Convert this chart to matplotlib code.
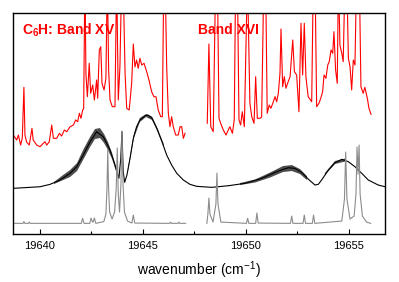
import numpy as np
import matplotlib.pyplot as plt
from matplotlib.ticker import MultipleLocator

plt.rcParams['font.family'] = ['Liberation Sans', 'DejaVu Sans']
plt.rcParams['mathtext.fontset'] = 'custom'
plt.rcParams['mathtext.rm'] = 'Liberation Sans'
plt.rcParams['mathtext.bf'] = 'Liberation Sans:bold'

# experimental spectrum (red), two scans; 260 = peak running off the top
red_x1 = [19638.74, 19638.87, 19638.95, 19639.06, 19639.14, 19639.22, 19639.27, 19639.35,
          19639.48, 19639.61, 19639.67, 19639.84, 19640.00, 19640.16, 19640.24, 19640.33,
          19640.45, 19640.57, 19640.65, 19640.81, 19640.94, 19641.05, 19641.18, 19641.30,
          19641.46, 19641.62, 19641.73, 19641.83, 19641.91, 19641.99, 19642.07, 19642.12,
          19642.18, 19642.23, 19642.30, 19642.39, 19642.46, 19642.56, 19642.64, 19642.75,
          19642.80, 19642.88, 19642.95, 19643.01, 19643.11, 19643.20, 19643.27, 19643.33,
          19643.40, 19643.51, 19643.64, 19643.72, 19643.80, 19643.88, 19643.97, 19644.03,
          19644.13, 19644.21, 19644.33, 19644.45, 19644.53, 19644.61, 19644.69, 19644.77,
          19644.85, 19644.94, 19645.05, 19645.18, 19645.29, 19645.42, 19645.53, 19645.63,
          19645.74, 19645.86, 19645.94, 19646.01, 19646.07, 19646.15, 19646.23, 19646.31,
          19646.39, 19646.47, 19646.59, 19646.71, 19646.80, 19646.88, 19646.96, 19647.04]
red_y1 = [98, 94, 99, 89, 95.7, 146.7, 99, 92,
          89, 105.7, 94, 89, 87.3, 90.7, 92.3, 89,
          92.3, 109, 95.7, 95.7, 100.7, 98, 104, 102.3,
          107.3, 109, 114, 112.3, 120.7, 115.7, 124, 125,
          260, 160, 137.3, 170.7, 140.7, 149, 134, 154,
          135.7, 184, 187.3, 150.7, 144, 155.7, 260, 165,
          134, 127.3, 127.3, 260, 134, 167, 260, 260,
          160.7, 125.7, 124, 150.7, 190, 167, 174, 165.7,
          175.7, 169, 170.7, 162.3, 154, 142.3, 137.3, 137.3,
          124, 117.3, 117.3, 260, 260, 167.3, 120.7, 107.3,
          117.3, 107.3, 99, 99, 107.3, 107.3, 95.7, 100.7]

red_x2 = [19648.12, 19648.20, 19648.29, 19648.41, 19648.53, 19648.61, 19648.69, 19648.77,
          19648.90, 19649.03, 19649.14, 19649.22, 19649.34, 19649.43, 19649.50, 19649.58,
          19649.66, 19649.74, 19649.82, 19649.92, 19650.07, 19650.19, 19650.28, 19650.39,
          19650.47, 19650.55, 19650.68, 19650.76, 19650.87, 19650.95, 19651.03, 19651.13,
          19651.21, 19651.30, 19651.41, 19651.49, 19651.57, 19651.65, 19651.70, 19651.78,
          19651.86, 19651.94, 19652.02, 19652.14, 19652.27, 19652.35, 19652.46, 19652.57,
          19652.67, 19652.75, 19652.83, 19652.91, 19653.02, 19653.19, 19653.27, 19653.35,
          19653.43, 19653.54, 19653.63, 19653.72, 19653.79, 19653.88, 19653.97, 19654.04,
          19654.13, 19654.21, 19654.27, 19654.35, 19654.43, 19654.49, 19654.56, 19654.65,
          19654.72, 19654.81, 19654.89, 19654.97, 19655.05, 19655.13, 19655.21, 19655.29,
          19655.37, 19655.50, 19655.58, 19655.69, 19655.77, 19655.89, 19655.97, 19656.07]
red_y2 = [110.7, 190, 107.3, 102.3, 260, 260, 115.7, 110.7,
          104, 99, 104, 107.3, 100.7, 114, 260, 260,
          114, 109, 122.3, 107.3, 260, 130.7, 117.3, 110.7,
          157.3, 115.7, 115.7, 117, 260, 260, 120.7, 129,
          125.7, 130.7, 137.3, 132.3, 140.7, 160.7, 205, 147.3,
          157.3, 145.7, 150.7, 157.3, 194, 162.3, 159, 122.3,
          210.7, 159, 210.7, 157, 137.3, 132.3, 260, 260,
          127.3, 130.7, 135.7, 142.3, 159, 155.7, 169, 172.3,
          184, 180.7, 202.3, 164, 150.7, 260, 189, 180.7,
          172.3, 260, 260, 175.7, 167.3, 144, 174, 169,
          260, 260, 147.3, 140.7, 146.7, 135.7, 125.7, 119.7]

# simulated contour (black)
sim_x = [19638.69, 19640.00, 19640.49, 19640.97, 19641.46, 19641.78, 19642.10, 19642.43,
         19642.75, 19643.07, 19643.40, 19643.59, 19643.74, 19643.83, 19643.92, 19643.98,
         19644.04, 19644.11, 19644.22, 19644.37, 19644.53, 19644.69, 19644.85, 19645.10,
         19645.24, 19645.44, 19645.67, 19645.92, 19646.15, 19646.39, 19646.64, 19646.96,
         19647.28, 19647.61, 19648.34, 19649.14, 19649.95, 19650.76, 19651.57, 19652.05,
         19652.38, 19652.70, 19653.02, 19653.35, 19653.51, 19653.67, 19654.00, 19654.32,
         19654.65, 19654.97, 19655.29, 19655.62, 19655.94, 19656.42, 19656.75]
sim_y = [45.7, 47.3, 49.7, 54, 60.7, 67.3, 79, 92.3,
         102.3, 97.3, 84, 72.3, 62.3, 55.7, 75, 102.3,
         62.3, 51.7, 59, 75.7, 95.7, 107.3, 114, 118.3,
         119, 115.7, 105.7, 92.3, 79, 69, 60.7, 54,
         49.7, 47.7, 46.7, 48.3, 50.7, 55.7, 63, 66.3,
         65.7, 61.7, 55, 49, 49.7, 54, 64, 71.3,
         74.7, 72.3, 67.3, 60.7, 54, 49, 47.3]

# extent of the unresolved rotational ripple on the contour
rip_x = [19640.68, 19641.12, 19641.46, 19641.80, 19642.09, 19642.43, 19642.67, 19642.91,
         19643.11, 19643.30, 19643.50, 19643.69, np.nan,
         19644.27, 19644.56, 19644.85, 19645.15, 19645.44, 19645.73, 19646.02, np.nan,
         19649.71, 19650.44, 19651.17, 19651.80, 19652.23, 19652.62, 19652.96, np.nan,
         19653.83, 19654.32, 19654.81]
rip_lo = [50, 54, 57, 63, 74, 87, 95, 96, 91, 84, 75, 63, np.nan,
          62.5, 96, 112, 117, 114, 101.5, 87, np.nan,
          49, 51.5, 56.5, 62, 63, 60, 54, np.nan,
          59, 70, 72.5]
rip_hi = [52, 59, 64, 71, 84, 97, 105, 106, 100, 92, 81, 67, np.nan,
          65.5, 100, 116, 120, 117.5, 104.5, 89.5, np.nan,
          51, 54.5, 61.5, 68, 69, 65, 58, np.nan,
          61, 73, 75.5]

# stick spectrum (grey)
stick_x1 = [19638.75, 19639.18, 19639.22, 19639.26, 19639.44, 19639.48, 19639.52,
            19642.00, 19642.07, 19642.14, 19642.42, 19642.48, 19642.55, 19642.58, 19642.64, 19642.71,
            19643.10, 19643.20, 19643.25, 19643.29, 19643.33, 19643.38, 19643.50,
            19643.62, 19643.70, 19643.75, 19643.80, 19643.86, 19643.93, 19643.98, 19644.03,
            19644.10, 19644.25, 19644.46, 19644.53, 19644.60,
            19646.30, 19646.34, 19646.38, 19646.70, 19646.74, 19646.78, 19647.07]
stick_y1 = [10.7, 10.7, 12.5, 10.7, 10.7, 12, 10.7,
            10.7, 15.7, 10.7, 10.7, 16, 12, 12, 16, 10.7,
            12.5, 20, 45, 84, 45, 22, 15,
            22, 45, 86, 40, 22, 50, 103, 50,
            22, 13, 11, 19, 11,
            10.7, 12, 10.7, 10.7, 12, 10.7, 10.7]

stick_x2 = [19648.10, 19648.15, 19648.20, 19648.25, 19648.40, 19648.54, 19648.59, 19648.64,
            19648.78, 19650.02, 19650.08, 19650.14, 19650.47, 19650.53, 19650.59,
            19652.16, 19652.22, 19652.28, 19652.77, 19652.83, 19652.89, 19653.22, 19653.28, 19653.34,
            19654.65, 19654.78, 19654.84, 19654.90, 19655.05, 19655.25, 19655.34, 19655.39,
            19655.44, 19655.49, 19655.54, 19655.65, 19655.85, 19656.05]
stick_y2 = [10.7, 20, 36, 20, 12, 30, 61, 30,
            12, 10.7, 15.7, 10.7, 10.7, 21, 11,
            10.7, 18, 10.7, 10.7, 19, 10.7, 10.7, 19, 10.7,
            13, 35, 82, 35, 15, 18, 40, 87,
            60, 89, 40, 18, 12, 10.7]

fig = plt.figure(figsize=(3.99, 2.82), dpi=100)
ax = fig.add_axes([0.0326, 0.170, 0.9324, 0.784])

ax.plot(red_x1, red_y1, color='#ff0000', lw=0.8)
ax.plot(red_x2, red_y2, color='#ff0000', lw=0.8)
ax.fill_between(rip_x, rip_lo, rip_hi, color='0.3', lw=0)
ax.plot(sim_x, sim_y, color='black', lw=0.8)
ax.plot(stick_x1, stick_y1, color='0.55', lw=0.8)
ax.plot(stick_x2, stick_y2, color='0.55', lw=0.8)

ax.text(0.0234, 0.9036, r'C$_\mathbf{6}$H: Band XV', transform=ax.transAxes,
        color='#ff0000', fontsize=10, fontweight='bold', va='baseline')
ax.text(0.498, 0.9036, 'Band XVI', transform=ax.transAxes,
        color='#ff0000', fontsize=10, fontweight='bold', va='baseline')

ax.set_xlim(19638.69, 19656.75)
ax.set_ylim(0, 221)
ax.set_yticks([])
ax.xaxis.set_major_locator(MultipleLocator(5))
ax.xaxis.set_minor_locator(MultipleLocator(2.5))
ax.tick_params(axis='x', which='both', direction='in', labelsize=8, pad=5)
ax.tick_params(axis='x', which='major', length=3.5, width=0.8)
ax.tick_params(axis='x', which='minor', length=2.5, width=0.8)
for s in ax.spines.values():
    s.set_linewidth(1.0)
ax.set_xlabel('wavenumber (cm$^{-1}$)', fontsize=10, labelpad=6)

fig.savefig('out.png', dpi=100)
